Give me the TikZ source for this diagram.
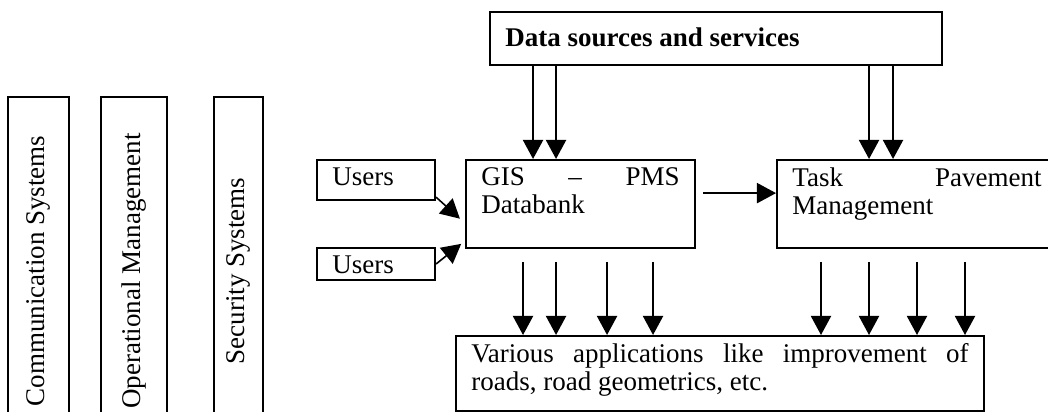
\documentclass[tikz,border=0pt]{standalone}
\usepackage{fontspec}
\setmainfont{Liberation Serif}
\usetikzlibrary{arrows.meta}
\newcommand{\boxtext}[3]{\parbox[c][#1][t]{#2}{#3}}

\begin{document}
\begin{tikzpicture}
  [box/.style={draw,line width=0.9pt,anchor=north west,inner xsep=0.24cm,inner ysep=0.117cm},
   sys/.style={draw,line width=0.9pt,rotate=90,inner sep=0pt,minimum width=5.4375cm},
   flow/.style={line width=0.7pt,arrows = {-Triangle[length=8.5pt, width=9pt]}},
   every node/.style={font=\fontsize{12}{12.4}\selectfont}]
  \useasboundingbox (0,0) rectangle (16.375,-6.422);
  \node[sys,minimum height=0.953cm] (comm) at (0.602,-4.234) {Communication Systems};
  \node[sys,minimum height=1.031cm] (oper) at (2.094,-4.234) {Operational Management};
  \node[sys,minimum height=0.766cm] (sec) at (3.727,-4.234) {Security Systems};

  \node[box,inner ysep=0.24cm] (data) at (7.641,-0.172) {\boxtext{0.348cm}{6.58cm}{\textbf{Data sources and services}}};
  \node[box] (users1) at (4.938,-2.484) {\boxtext{0.391cm}{1.364cm}{Users}};
  \node[box] (users2) at (4.938,-3.859) {\boxtext{0.266cm}{1.364cm}{Users}};
  \node[box] (gis) at (7.266,-2.484) {\boxtext{1.141cm}{3.098cm}{GIS -- PMS\linebreak Databank}};
  \node[box] (task) at (12.125,-2.484) {\boxtext{1.141cm}{3.895cm}{Task Pavement\linebreak Management}};
  \node[box] (apps) at (7.109,-5.234) {\boxtext{0.938cm}{7.77cm}{Various applications like improvement of\linebreak roads, road geometrics, etc.}};

  \foreach \dx in {0.6875,1.047}
    \draw[flow] ([xshift=\dx cm]data.south west) -- ([xshift=\dx cm]data.south west |- gis.north);
  \foreach \dx in {5.9375,6.3125}
    \draw[flow] ([xshift=\dx cm]data.south west) -- ([xshift=\dx cm]data.south west |- task.north);
  \draw[flow,shorten <=0.11cm] ([yshift=0.17cm]gis.east) -- ([yshift=0.17cm]task.west);
  \draw[flow] ([yshift=0.06cm]users1.south east) -- ([xshift=-0.08cm,yshift=-0.23cm]gis.west);
  \draw[flow] (users2.east) -- ([xshift=-0.06cm,yshift=0.08cm]gis.south west);
  \foreach \dx in {0.906,1.422,2.219,2.9375}
    \draw[flow,shorten <=0.2cm] ([xshift=\dx cm]gis.south west) -- ([xshift=\dx cm]gis.south west |- apps.north);
  \foreach \dx in {0.703,1.453,2.203,2.953}
    \draw[flow,shorten <=0.2cm] ([xshift=\dx cm]task.south west) -- ([xshift=\dx cm]task.south west |- apps.north);
\end{tikzpicture}
\end{document}
